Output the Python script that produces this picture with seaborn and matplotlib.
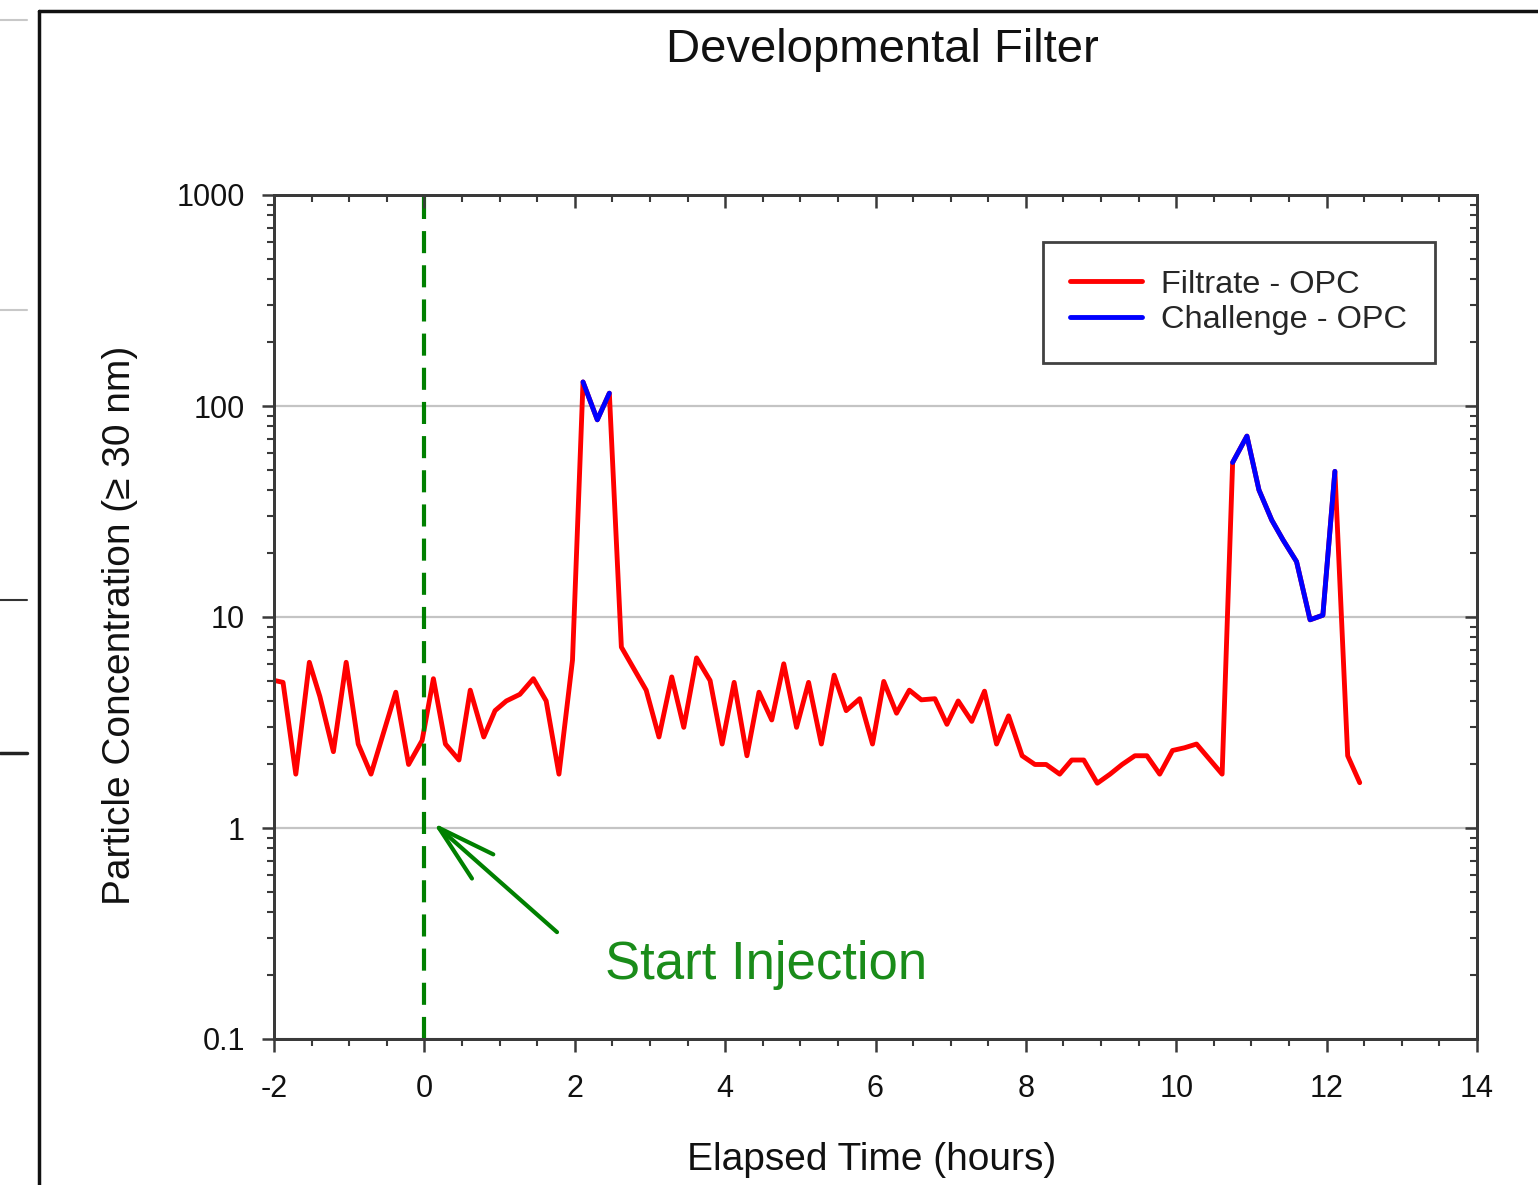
import numpy as np
import pandas as pd
import seaborn as sns
import matplotlib
matplotlib.use("Agg")
import matplotlib.pyplot as plt
from matplotlib.ticker import MultipleLocator, LogLocator, FixedLocator, NullFormatter, FixedFormatter
from matplotlib.lines import Line2D

# ---------------- data ----------------
filtrate_time = [-1.99, -1.88, -1.71, -1.53, -1.39, -1.21, -1.04, -0.88, -0.71, -0.38,
                 -0.21, -0.03, 0.12, 0.28, 0.46, 0.61, 0.79, 0.94, 1.09, 1.27,
                 1.45, 1.62, 1.79, 1.97, 2.11, 2.30, 2.46, 2.62, 2.95, 3.12,
                 3.29, 3.45, 3.62, 3.80, 3.96, 4.12, 4.29, 4.45, 4.62, 4.78,
                 4.95, 5.11, 5.28, 5.45, 5.61, 5.79, 5.96, 6.11, 6.28, 6.45,
                 6.61, 6.79, 6.95, 7.10, 7.28, 7.45, 7.61, 7.77, 7.95, 8.12,
                 8.27, 8.45, 8.61, 8.77, 8.95, 9.12, 9.28, 9.45, 9.61, 9.78,
                 9.95, 10.11, 10.27, 10.61, 10.75, 10.94, 11.10, 11.27, 11.42, 11.60,
                 11.78, 11.95, 12.11, 12.28, 12.44]
filtrate_conc = [5.0, 4.9, 1.8, 6.1, 4.2, 2.3, 6.1, 2.5, 1.8, 4.4,
                 2.0, 2.6, 5.1, 2.5, 2.1, 4.5, 2.7, 3.6, 4.0, 4.3,
                 5.1, 4.0, 1.8, 6.25, 130, 86, 115, 7.2, 4.5, 2.7,
                 5.2, 3.0, 6.4, 5.0, 2.5, 4.9, 2.2, 4.4, 3.25, 6.0,
                 3.0, 4.9, 2.5, 5.3, 3.6, 4.1, 2.5, 4.95, 3.5, 4.5,
                 4.05, 4.1, 3.1, 4.0, 3.2, 4.45, 2.5, 3.4, 2.2, 2.0,
                 2.0, 1.8, 2.1, 2.1, 1.63, 1.8, 2.0, 2.2, 2.2, 1.8,
                 2.33, 2.4, 2.5, 1.8, 54, 72, 40, 28.8, 23.2, 18.3,
                 9.7, 10.2, 49, 2.2, 1.64]

challenge_time_1 = [2.11, 2.30, 2.46]
challenge_conc_1 = [130, 86, 115]
challenge_time_2 = [10.75, 10.94, 11.10, 11.27, 11.42, 11.60, 11.78, 11.95, 12.11]
challenge_conc_2 = [54, 72, 40, 28.8, 23.2, 18.3, 9.7, 10.2, 49]

x_ticks = [-2, 0, 2, 4, 6, 8, 10, 12, 14]
y_ticks = [0.1, 1, 10, 100, 1000]
y_tick_labels = ["0.1", "1", "10", "100", "1000"]

title = "Developmental Filter"
x_label = "Elapsed Time (hours)"
y_label = "Particle Concentration (\u2265 30 nm)"
series_names = ["Filtrate - OPC", "Challenge - OPC"]
annotation_text = "Start Injection"
injection_time = 0

# ---------------- style ----------------
sns.set_theme(style="white")
plt.rcParams["font.family"] = ["Liberation Sans", "DejaVu Sans"]

W, H = 1538, 1185
fig = plt.figure(figsize=(W / 100, H / 100), dpi=100)
L, R, T, B = 274, 1477, 195, 1039
ax = fig.add_axes([L / W, 1 - B / H, (R - L) / W, (B - T) / H])

red = "#ff0000"
blue = "#0000ff"
green = "#008000"
LW = 3.5

df_f = pd.DataFrame({"t": filtrate_time, "c": filtrate_conc})
df_c = pd.concat([
    pd.DataFrame({"t": challenge_time_1, "c": challenge_conc_1, "seg": 1}),
    pd.DataFrame({"t": challenge_time_2, "c": challenge_conc_2, "seg": 2}),
])

ax.set_yscale("log")
sns.lineplot(data=df_f, x="t", y="c", ax=ax, color=red, lw=LW, estimator=None,
             sort=False, zorder=4)
sns.lineplot(data=df_c, x="t", y="c", units="seg", ax=ax, color=blue, lw=LW,
             estimator=None, sort=False, zorder=5)

ax.set_xlim(-2, 14)
ax.set_ylim(0.1, 1000)

# injection line
ax.axvline(injection_time, color=green, lw=3, dashes=(5.3, 2.9), zorder=6)

# grid
ax.yaxis.grid(True, which="major", color="#c4c4c4", lw=1.6, zorder=1)
ax.xaxis.grid(False)
ax.set_axisbelow(True)

# ticks
ax.xaxis.set_major_locator(FixedLocator(x_ticks))
ax.xaxis.set_minor_locator(MultipleLocator(0.5))
ax.yaxis.set_major_locator(FixedLocator(y_ticks))
ax.yaxis.set_major_formatter(FixedFormatter(y_tick_labels))
ax.yaxis.set_minor_locator(LogLocator(base=10, subs=np.arange(2, 10)))
ax.yaxis.set_minor_formatter(NullFormatter())
ax.set_xticklabels([str(v) for v in x_ticks])

spine_col = "#3a3a3a"
for s in ax.spines.values():
    s.set_color(spine_col)
    s.set_linewidth(2.0)
ax.tick_params(axis="both", which="major", direction="out", length=9, width=1.8,
               color=spine_col, labelsize=22, labelcolor="#111111")
ax.tick_params(axis="both", which="minor", direction="out", length=5, width=1.5,
               color=spine_col)
ax.tick_params(axis="x", which="major", pad=16)
ax.tick_params(axis="y", which="major", pad=12)

# top / right inward ticks
axt = ax.twiny()
axt.set_xlim(ax.get_xlim())
axt.xaxis.set_major_locator(FixedLocator(x_ticks))
axt.xaxis.set_minor_locator(MultipleLocator(0.5))
axt.tick_params(axis="x", which="major", direction="in", length=9, width=1.8,
                color=spine_col, labeltop=False)
axt.tick_params(axis="x", which="minor", direction="in", length=5, width=1.5,
                color=spine_col)
axr = ax.twinx()
axr.set_yscale("log")
axr.set_ylim(ax.get_ylim())
axr.yaxis.set_major_locator(FixedLocator(y_ticks))
axr.yaxis.set_minor_locator(LogLocator(base=10, subs=np.arange(2, 10)))
axr.yaxis.set_minor_formatter(NullFormatter())
axr.tick_params(axis="y", which="major", direction="in", length=9, width=1.8,
                color=spine_col, labelright=False)
axr.tick_params(axis="y", which="minor", direction="in", length=5, width=1.5,
                color=spine_col)
for a in (axt, axr):
    for s in a.spines.values():
        s.set_color(spine_col)
        s.set_linewidth(2.0)

# labels
ax.set_xlabel(x_label, fontsize=28, color="#111111")
ax.set_ylabel(y_label, fontsize=28, color="#111111")
ax.xaxis.set_label_coords((872 - L) / (R - L), (B - 1160) / (B - T))
ax.xaxis.label.set_va("center")
ax.yaxis.set_label_coords((120 - L) / (R - L), (B - 625) / (B - T))
ax.yaxis.label.set_va("center")

fig.text(882 / W, 1 - 50 / H, title, ha="center", va="center", fontsize=34,
         color="#111111")

# annotation
ax.annotate("", xy=(0.115, 1.06), xytext=(1.764, 0.321),
            arrowprops=dict(arrowstyle="->,head_length=2.1,head_width=0.58",
                            mutation_scale=20, lw=3.0, color=green,
                            shrinkA=0, shrinkB=0), zorder=7)
ax.text(605 / W, 1 - 965 / H, annotation_text, transform=fig.transFigure,
        ha="left", va="center", fontsize=38, color="#1a8c1a")

# legend
handles = [Line2D([0], [0], color=red, lw=LW), Line2D([0], [0], color=blue, lw=LW)]
leg = axr.legend(handles, series_names, loc="upper right",
                 bbox_to_anchor=(1435 / W, 1 - 242 / H), bbox_transform=fig.transFigure,
                 fontsize=23.4, frameon=True, fancybox=False, borderaxespad=0,
                 borderpad=0.85, labelspacing=0.18, handlelength=2.2, handletextpad=0.6)
leg.get_frame().set_edgecolor("#111111")
leg.get_frame().set_linewidth(2.0)

# screenshot frame
fig.add_artist(Line2D([39 / W, 39 / W], [0, 1 - 11 / H], transform=fig.transFigure,
                      color="#111111", lw=2.5))
fig.add_artist(Line2D([39 / W, 1], [1 - 11 / H, 1 - 11 / H], transform=fig.transFigure,
                      color="#111111", lw=2.5))
for yy, col, lw in [(20, "#c8c8c8", 1.5), (310, "#c8c8c8", 1.5), (600, "#333333", 1.5),
                    (753, "#222222", 2.5)]:
    fig.add_artist(Line2D([0, 27 / W], [1 - yy / H, 1 - yy / H], transform=fig.transFigure,
                          color=col, lw=lw))

fig.savefig("out.png", dpi=100, facecolor="white")
